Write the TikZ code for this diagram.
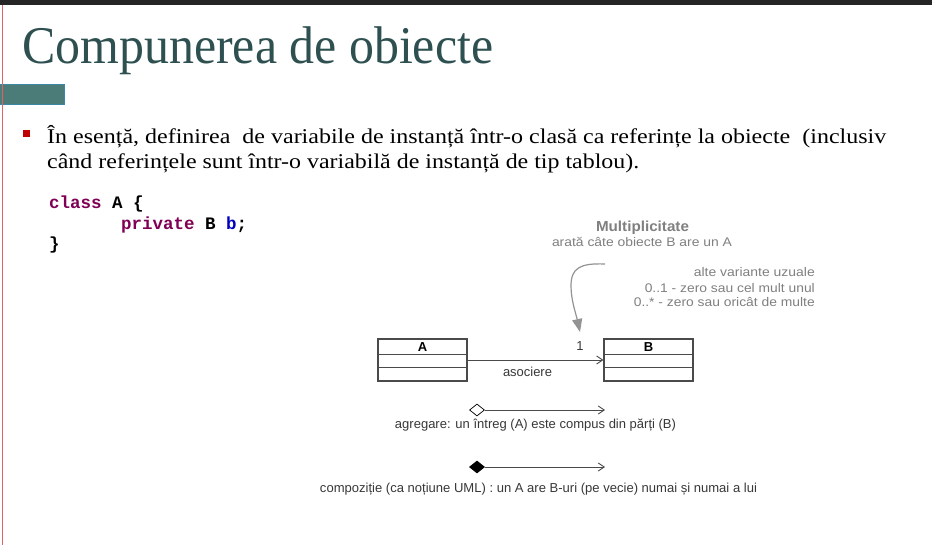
\documentclass[tikz,border=0pt]{standalone}
\usepackage{fontspec}
\setmainfont{Liberation Serif}
\setsansfont{Liberation Sans}
\setmonofont{Liberation Mono}
\usepackage{graphicx}
\usetikzlibrary{arrows.meta,shapes.geometric}

\definecolor{barcol}{HTML}{252525}
\definecolor{edgered}{HTML}{E06262}
\definecolor{tealfill}{HTML}{4B7C78}
\definecolor{tealedge}{HTML}{3A88A6}
\definecolor{titlecol}{HTML}{2E5050}
\definecolor{bulletred}{HTML}{C00000}
\definecolor{kwpurple}{HTML}{7F0055}
\definecolor{varblue}{HTML}{0000C0}
\definecolor{notegray}{HTML}{808080}
\definecolor{labelgray}{HTML}{383838}
\definecolor{umlline}{HTML}{4A4A4A}

% stretch or shrink a text horizontally to a given width (in pt), keeping its height
\newcommand{\fitto}[2]{\resizebox{#1pt}{\height}{#2}}

\tikzset{
  slidetitle/.style={inner sep=0, text=titlecol, font=\fontsize{53}{60}\selectfont},
  bodytext/.style={inner sep=0, text=black, font=\fontsize{21}{25}\selectfont},
  codetext/.style={inner sep=0, text=black, font=\ttfamily\bfseries\fontsize{17.5}{20}\selectfont},
  notetitle/.style={inner sep=0, text=notegray, font=\sffamily\bfseries\fontsize{14.5}{16}\selectfont},
  notetext/.style={inner sep=0, text=notegray, font=\sffamily\fontsize{12.5}{14}\selectfont},
  umltext/.style={inner sep=0, text=labelgray, font=\sffamily\fontsize{13}{15}\selectfont},
  umlbox/.style={draw=umlline, line width=1.1pt, minimum width=89pt, minimum height=42pt, inner sep=0},
  boxlabel/.style={inner sep=0, text=black, font=\sffamily\bfseries\fontsize{13}{15}\selectfont},
  divider/.style={draw=umlline, line width=1pt},
  assocline/.style={draw=umlline, line width=0.9pt, -{Straight Barb[length=6pt,width=8pt]}},
  hollowdiamond/.style={diamond, draw=black, line width=0.7pt, fill=white, minimum width=15pt, minimum height=12pt, inner sep=0},
  soliddiamond/.style={diamond, draw=black, fill=black, line width=0.7pt, minimum width=15pt, minimum height=12pt, inner sep=0},
  curvearrow/.style={draw=notegray!85, line width=1.2pt, -{Triangle[length=13pt,width=10pt]}},
}

\begin{document}
\begin{tikzpicture}[x=1pt,y=-1pt]
  \useasboundingbox (0,0) rectangle (932,545);
  \fill[white] (0,0) rectangle (932,545);

  % slide frame: top bar, teal tab and red margin line
  \fill[barcol] (0,0) rectangle (932,5.5);
  \filldraw[fill=tealfill, draw=tealedge, line width=0.8pt] (-1,84) rectangle (64,104);
  \draw[edgered, line width=1.2pt] (2.5,5.5) -- (2.5,545);

  % title
  \node[slidetitle, anchor=base west] (title) at (22,64) {\fitto{471}{Compunerea de obiecte}};

  % bullet point
  \fill[bulletred] (22.5,130.5) rectangle (29.5,137.5);
  \node[bodytext, anchor=base west] (line1) at (47,144)
    {\fitto{839}{În esență, definirea~ de variabile de instanță într-o clasă ca referințe la obiecte~ (inclusiv}};
  \node[bodytext, anchor=base west] (line2) at (47,169)
    {\fitto{592}{când referințele sunt într-o variabilă de instanță de tip tablou).}};

  % code sample
  \node[codetext, anchor=base west] (code1) at (49,209) {\textcolor{kwpurple}{class} A \{};
  \node[codetext, anchor=base west] (code2) at (121,230) {\textcolor{kwpurple}{private} B \textcolor{varblue}{b};};
  \node[codetext, anchor=base west] (code3) at (49,250) {\}};

  % multiplicity note
  \node[notetitle, anchor=base] (multi) at (642.5,232) {\fitto{93}{Multiplicitate}};
  \node[notetext, anchor=base] (multisub) at (642,247) {\fitto{180}{arată câte obiecte B are un A}};
  \node[notetext, anchor=base east] (alt1) at (815,277) {\fitto{121}{alte variante uzuale}};
  \node[notetext, anchor=base east] (alt2) at (815,293) {\fitto{170}{0..1 - zero sau cel mult unul}};
  \node[notetext, anchor=base east] (alt3) at (815,307) {\fitto{181}{0..* - zero sau oricât de multe}};

  \coordinate (mstart) at (605,264);
  \coordinate (mend) at (580,332);
  \draw[curvearrow] (mstart) .. controls (580,263) and (571,268) .. (571,286)
                    .. controls (571,300) and (576,314) .. (mend);

  % classes A and B with an association
  \node[umlbox] (A) at (422.5,360) {};
  \node[umlbox] (B) at (648.5,360) {};
  \node[boxlabel] (Alabel) at (422.5,347) {A};
  \node[boxlabel] (Blabel) at (648.5,347) {B};
  \foreach \cls in {A,B} {
    \draw[divider] ([yshift=-16pt]\cls.north west) -- ([yshift=-16pt]\cls.north east);
    \draw[divider] ([yshift=-29pt]\cls.north west) -- ([yshift=-29pt]\cls.north east);
  }
  \draw[assocline] (A.east) -- (B.west);
  \node[umltext, anchor=base] (mult) at (580,351) {1};
  \node[umltext, anchor=base] (assoc) at (527.5,377) {\fitto{49}{asociere}};

  % aggregation
  \node[hollowdiamond] (agg) at (477,410) {};
  \coordinate (aggend) at (605,410);
  \draw[assocline] (agg.east) -- (aggend);
  \node[umltext, anchor=base] (aggtext) at (535.5,428) {\fitto{281}{agregare: un întreg (A) este compus din părți (B)}};

  % composition
  \node[soliddiamond] (comp) at (477,467) {};
  \coordinate (compend) at (605,467);
  \draw[assocline] (comp.east) -- (compend);
  \node[umltext, anchor=base] (comptext) at (538.5,492)
    {\fitto{437}{compoziție (ca noțiune UML) : un A are B-uri (pe vecie) numai și numai a lui}};
\end{tikzpicture}
\end{document}
